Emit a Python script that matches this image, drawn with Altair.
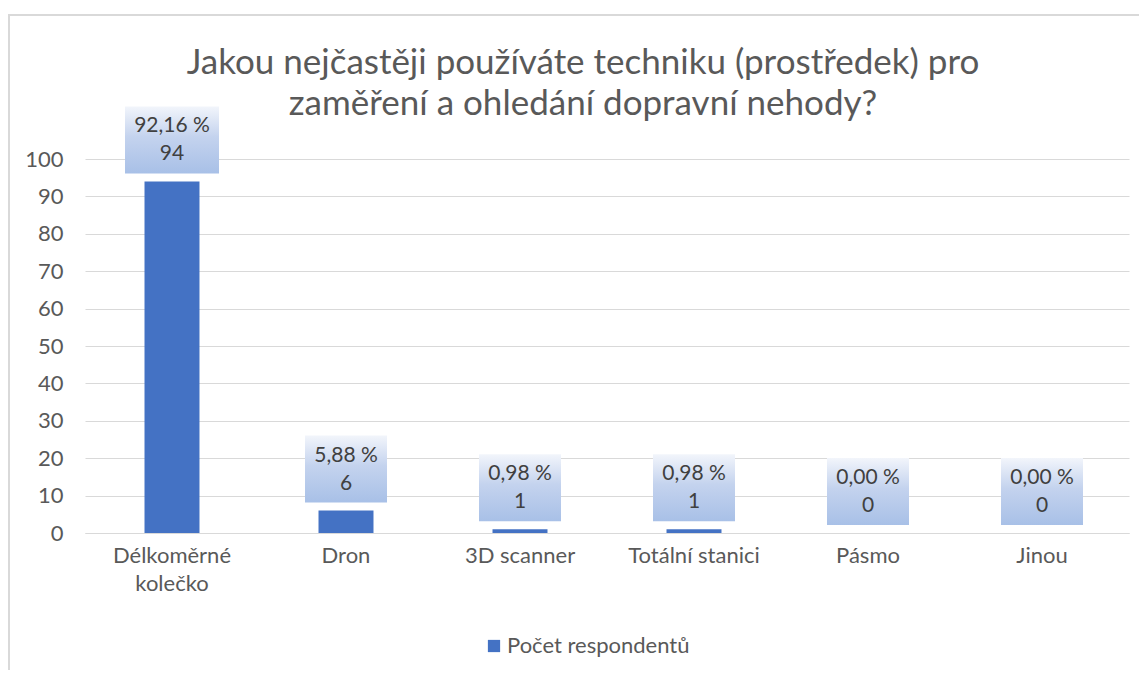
import altair as alt
import pandas as pd

categories = ["Délkoměrné kolečko", "Dron", "3D scanner", "Totální stanici", "Pásmo", "Jinou"]
counts = [94, 6, 1, 1, 0, 0]
pct_labels = ["92,16 %", "5,88 %", "0,98 %", "0,98 %", "0,00 %", "0,00 %"]
series_name = "Počet respondentů"
title_lines = ["Jakou nejčastěji používáte techniku (prostředek) pro",
               "zaměření a ohledání dopravní nehody?"]
y_ticks = [0, 10, 20, 30, 40, 50, 60, 70, 80, 90, 100]

df = pd.DataFrame({"cat": categories, "count": counts, "pct": pct_labels,
                   "series": [series_name] * len(categories)})

W, H = 1044, 374
PX = H / 100.0  # pixels per unit

FONT = "Lato"
GRAY = "#595959"
LABEL = "#404040"
BLUE = "#4472C4"

x_axis = alt.Axis(title=None, labelAngle=0, ticks=False, domainColor="#d9d9d9",
                  labelColor=GRAY, labelFontSize=22, labelFont=FONT,
                  labelPadding=22, labelBaseline="middle", labelLineHeight=28,
                  labelExpr="datum.label == 'Délkoměrné kolečko' ? split(datum.label, ' ') : datum.label")
x_scale = alt.Scale(paddingInner=0.684, paddingOuter=0.342)
x_enc = alt.X("cat:N", sort=categories, scale=x_scale, axis=x_axis)

y_axis = alt.Axis(title=None, values=y_ticks, ticks=False, domain=False,
                  labelOverlap=False, grid=True, tickCount=11,
                  gridColor="#d9d9d9", gridWidth=1, labelColor=GRAY, labelFontSize=22,
                  labelFont=FONT, labelPadding=22)
y_scale = alt.Scale(domain=[0, 100], nice=False)

base = alt.Chart(df)

bars = base.mark_bar(color=BLUE).encode(
    x=x_enc,
    y=alt.Y("count:Q", scale=y_scale, axis=y_axis),
    color=alt.Color("series:N", scale=alt.Scale(range=[BLUE]),
                    legend=alt.Legend(title=None, orient="none", legendX=398, legendY=476,
                                      symbolType="square", symbolSize=150, symbolStrokeWidth=0,
                                      labelFontSize=22, labelFont=FONT, labelColor=GRAY,
                                      labelOffset=2, labelLimit=0, padding=0)),
)

grad = alt.Gradient(gradient="linear",
                    stops=[alt.GradientStop(offset=0, color="#f2f5fb"),
                           alt.GradientStop(offset=0.45, color="#c4d3ee"),
                           alt.GradientStop(offset=1, color="#a8c0e7")],
                    x1=0, x2=0, y1=0, y2=1)

box_base = base.transform_calculate(
    ytop=f"datum.count + 75 / {PX}",
    ybot=f"datum.count + 8 / {PX}",
    plen="length(datum.pct)",
)

box_wide = box_base.transform_filter("datum.plen > 6").mark_rect(fill=grad, width=94).encode(
    x=x_enc, y=alt.Y("ytop:Q", scale=y_scale, axis=y_axis), y2="ybot:Q")
box_narrow = box_base.transform_filter("datum.plen <= 6").mark_rect(fill=grad, width=82).encode(
    x=x_enc, y=alt.Y("ytop:Q", scale=y_scale, axis=y_axis), y2="ybot:Q")

txt1 = base.mark_text(font=FONT, fontSize=21, color=LABEL, dy=-55, baseline="middle").encode(
    x=x_enc, y=alt.Y("count:Q", scale=y_scale, axis=y_axis), text="pct:N")
txt2 = base.mark_text(font=FONT, fontSize=21, color=LABEL, dy=-27, baseline="middle").encode(
    x=x_enc, y=alt.Y("count:Q", scale=y_scale, axis=y_axis), text="count:Q")

border = alt.Chart(pd.DataFrame({"k": [0]})).mark_rect(
    fill=None, stroke="#d9d9d9", strokeWidth=2).encode(
    x=alt.value(-76), x2=alt.value(W + 200), y=alt.value(-144), y2=alt.value(H + 300))

chart = alt.layer(border, bars, box_wide, box_narrow, txt1, txt2).properties(
    width=W, height=H,
    title=alt.TitleParams(text=title_lines, font=FONT, fontSize=35, fontWeight="normal",
                          color=GRAY, anchor="middle", dx=-24, dy=108, offset=0, lineHeight=41),
    autosize=alt.AutoSizeParams(type="none"),
    padding={"left": 77, "top": 151, "right": 10, "bottom": 137},
).configure_view(stroke=None).resolve_scale(y="shared")

chart.save("out.html", embed_options={"renderer": "svg", "actions": False})
